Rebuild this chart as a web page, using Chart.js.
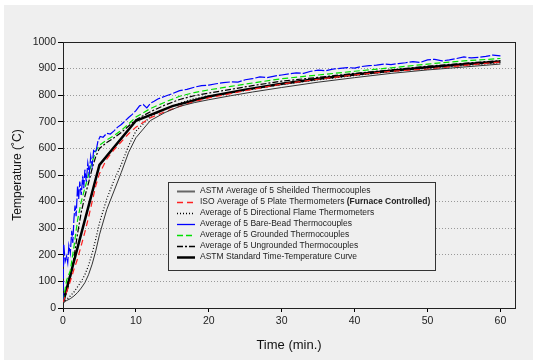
<!DOCTYPE html>
<html>
<head>
<meta charset="utf-8">
<script src="https://cdn.jsdelivr.net/npm/chart.js@4.4.1/dist/chart.umd.min.js"></script>
<style>
  html, body { margin: 0; padding: 0; background: #fff; }
  #wrap { position: absolute; left: 4px; top: 5px; width: 529px; height: 355px; background: #efefef; }
  canvas { display: block; }
</style>
</head>
<body>
<div id="wrap"><canvas id="chart" width="529" height="355"></canvas></div>
<script>
// time axis shared by the smooth averages (min)
const timeMin = [0, 0.5, 1, 1.5, 2, 2.5, 3, 3.5, 4, 4.5, 5, 6, 7, 8, 9, 10, 12, 14, 16, 18, 20, 23, 26, 30, 35, 40, 45, 50, 55, 60];

const shielded   = [20, 28, 35, 45, 58, 75, 95, 125, 165, 215, 275, 370, 440, 510, 585, 640, 705, 735, 758, 772, 783, 798, 812, 829, 849, 866, 882, 895, 906, 917];
const isoPlate   = [20, 60, 100, 145, 185, 235, 285, 340, 400, 460, 505, 560, 595, 625, 655, 680, 715, 738, 758, 776, 790, 806, 822, 842, 860, 876, 890, 898, 912, 925];
const flame      = [20, 32, 45, 60, 80, 100, 125, 160, 205, 260, 320, 410, 480, 540, 610, 665, 720, 748, 770, 787, 797, 808, 823, 840, 858, 874, 889, 901, 911, 922];
const grounded   = [25, 105, 140, 230, 330, 400, 450, 500, 550, 590, 612, 632, 648, 668, 692, 718, 750, 774, 796, 810, 820, 833, 846, 862, 876, 890, 903, 917, 929, 938];
const ungrounded = [20, 60, 110, 190, 280, 360, 420, 470, 525, 570, 600, 622, 640, 660, 684, 708, 738, 763, 784, 798, 808, 822, 836, 853, 867, 882, 895, 909, 920, 930];

// bare-bead readings are noisy, so they have their own time base
const bareTime = [0, 0.1, 0.3, 0.5, 0.65, 0.8, 1, 1.2, 1.35, 1.5, 1.65, 1.8, 2, 2.15, 2.3, 2.5, 2.7, 2.85, 3, 3.2, 3.4, 3.6, 3.8, 4, 4.2, 4.5, 4.8, 5.1, 5.5, 6, 6.5, 7, 7.5, 8, 8.5, 9, 9.5, 10, 10.5, 11, 11.5, 12, 12.5, 13,
  14, 15, 16, 17, 18, 19, 20, 21, 22, 23, 24, 25, 26, 27, 28, 29, 30, 31, 32, 33, 34, 35, 36, 37, 38, 39, 40, 41, 42, 43, 44, 45, 46, 47, 48, 49, 50, 51, 52, 53, 54, 55, 56, 57, 58, 59, 60];
const bareBead = [20, 240, 175, 195, 170, 235, 205, 290, 245, 335, 385, 345, 460, 410, 475, 425, 495, 450, 520, 475, 545, 505, 570, 535, 592, 585, 628, 645, 642, 657, 654, 666, 680, 690, 703, 716, 728, 742, 760, 765, 752, 770, 777, 786,
  796, 806, 817, 822, 830, 836, 838, 843, 847, 850, 849, 858, 862, 869, 866, 872, 876, 880, 884, 882, 890, 894, 892, 898, 901, 904, 902, 908, 911, 913, 917, 915, 919, 922, 926, 923, 933, 935, 929, 933, 938, 944, 940, 942, 946, 951, 948];

// ASTM E119 standard curve
const stdTime  = [0, 5, 10, 15, 20, 25, 30, 35, 40, 45, 50, 55, 60];
const stdCurve = [20, 538, 704, 759, 795, 821, 843, 862, 878, 892, 905, 916, 927];

const xTicks = [0, 10, 20, 30, 40, 50, 60];

const pts = (xs, ys) => xs.map((x, i) => ({ x, y: ys[i] }));

const datasets = [
  { label: 'ASTM Average of 5 Sheilded Thermocouples', data: pts(timeMin, shielded), borderColor: '#333', borderWidth: 1, legendColor: '#666', legendWidth: 2 },
  { label: 'ISO Average of 5 Plate Thermometers ', bold: '(Furnace Controlled)', data: pts(timeMin, isoPlate), borderColor: '#ff2020', borderWidth: 1.2, borderDash: [6, 4] },
  { label: 'Average of 5 Directional Flame Thermometers', data: pts(timeMin, flame), borderColor: '#000', borderWidth: 1.2, borderDash: [1, 2] },
  { label: 'Average of 5 Bare-Bead Thermocouples', data: pts(bareTime, bareBead), borderColor: '#0000ff', borderWidth: 1.2, borderDash: [10, 2], legendDash: [] },
  { label: 'Average of 5 Grounded Thermocouples', data: pts(timeMin, grounded), borderColor: '#00e000', borderWidth: 1.2, borderDash: [6, 3] },
  { label: 'Average of 5 Ungrounded Thermocouples', data: pts(timeMin, ungrounded), borderColor: '#000', borderWidth: 1.2, borderDash: [6, 2, 2, 2] },
  { label: 'ASTM Standard Time-Temperature Curve', data: pts(stdTime, stdCurve), borderColor: '#000', borderWidth: 2.5 },
];
datasets.forEach((d) => { d.pointRadius = 0; d.fill = false; d.tension = 0; });

const FONT = '"Liberation Sans", Arial, sans-serif';

// frame around the plot area
const frame = {
  id: 'frame',
  beforeDatasetsDraw(chart) {
    const a = chart.chartArea;
    const ctx = chart.ctx;
    ctx.save();
    ctx.strokeStyle = '#222';
    ctx.lineWidth = 1;
    ctx.strokeRect(Math.round(a.left) + 0.5, Math.round(a.top) + 0.5, Math.round(a.right - a.left), Math.round(a.bottom - a.top));
    ctx.restore();
  },
};

// boxed legend inside the plot (mixed normal / bold text)
const boxLegend = {
  id: 'boxLegend',
  afterDraw(chart) {
    const ctx = chart.ctx;
    const x0 = 164, y0 = 177, w = 267, h = 88;
    ctx.save();
    ctx.fillStyle = '#efefef';
    ctx.fillRect(x0, y0, w, h);
    ctx.strokeStyle = '#333';
    ctx.lineWidth = 1;
    ctx.strokeRect(x0 + 0.5, y0 + 0.5, w, h);
    ctx.textBaseline = 'middle';
    chart.data.datasets.forEach((d, i) => {
      const y = y0 + 9 + i * 11;
      ctx.beginPath();
      ctx.strokeStyle = d.legendColor || d.borderColor;
      ctx.lineWidth = d.legendWidth || Math.max(d.borderWidth, 1.3);
      ctx.setLineDash(d.legendDash || d.borderDash || []);
      ctx.moveTo(x0 + 9, y + 0.5);
      ctx.lineTo(x0 + 27, y + 0.5);
      ctx.stroke();
      ctx.setLineDash([]);
      ctx.fillStyle = '#222';
      ctx.font = '8.5px ' + FONT;
      ctx.fillText(d.label, x0 + 32, y);
      if (d.bold) {
        const tw = ctx.measureText(d.label).width;
        ctx.font = 'bold 8.5px ' + FONT;
        ctx.fillText(d.bold, x0 + 32 + tw, y);
      }
    });
    ctx.restore();
  },
};

new Chart(document.getElementById('chart'), {
  type: 'line',
  data: { datasets },
  options: {
    responsive: false,
    animation: false,
    layout: { padding: { left: 0, top: 37, right: 18, bottom: 0 } },
    plugins: { legend: { display: false }, tooltip: { enabled: false } },
    scales: {
      x: {
        type: 'linear',
        min: 0,
        max: 62,
        afterFit: (s) => { s.height = 52; },
        afterBuildTicks: (s) => { s.ticks = xTicks.map((v) => ({ value: v })); },
        ticks: { stepSize: 10, color: '#222', padding: 3, maxRotation: 0, font: { family: FONT, size: 10.5 }, callback: (v) => String(v) },
        grid: { drawOnChartArea: false, tickLength: 4, tickColor: '#000' },
        border: { color: '#000', width: 1 },
        title: { display: true, text: 'Time (min.)', color: '#111', font: { family: FONT, size: 13 }, padding: { top: 0, bottom: 7 } },
      },
      y: {
        min: 0,
        max: 1000,
        afterFit: (s) => { s.width = 59; },
        ticks: { stepSize: 100, color: '#222', padding: 2, font: { family: FONT, size: 10.5 }, callback: (v) => String(v) },
        grid: {
          color: (c) => (c.tick && (c.tick.value === 0 || c.tick.value === 1000) ? 'rgba(0,0,0,0)' : '#999'),
          tickColor: '#000',
          tickBorderDash: [],
          tickLength: 5,
        },
        border: { color: '#000', width: 1, dash: [1, 2] },
        title: { display: true, text: 'Temperature (˚C)', color: '#111', font: { family: FONT, size: 12 }, padding: { top: 6, bottom: 0 } },
      },
    },
  },
  plugins: [frame, boxLegend],
});
</script>
</body>
</html>
